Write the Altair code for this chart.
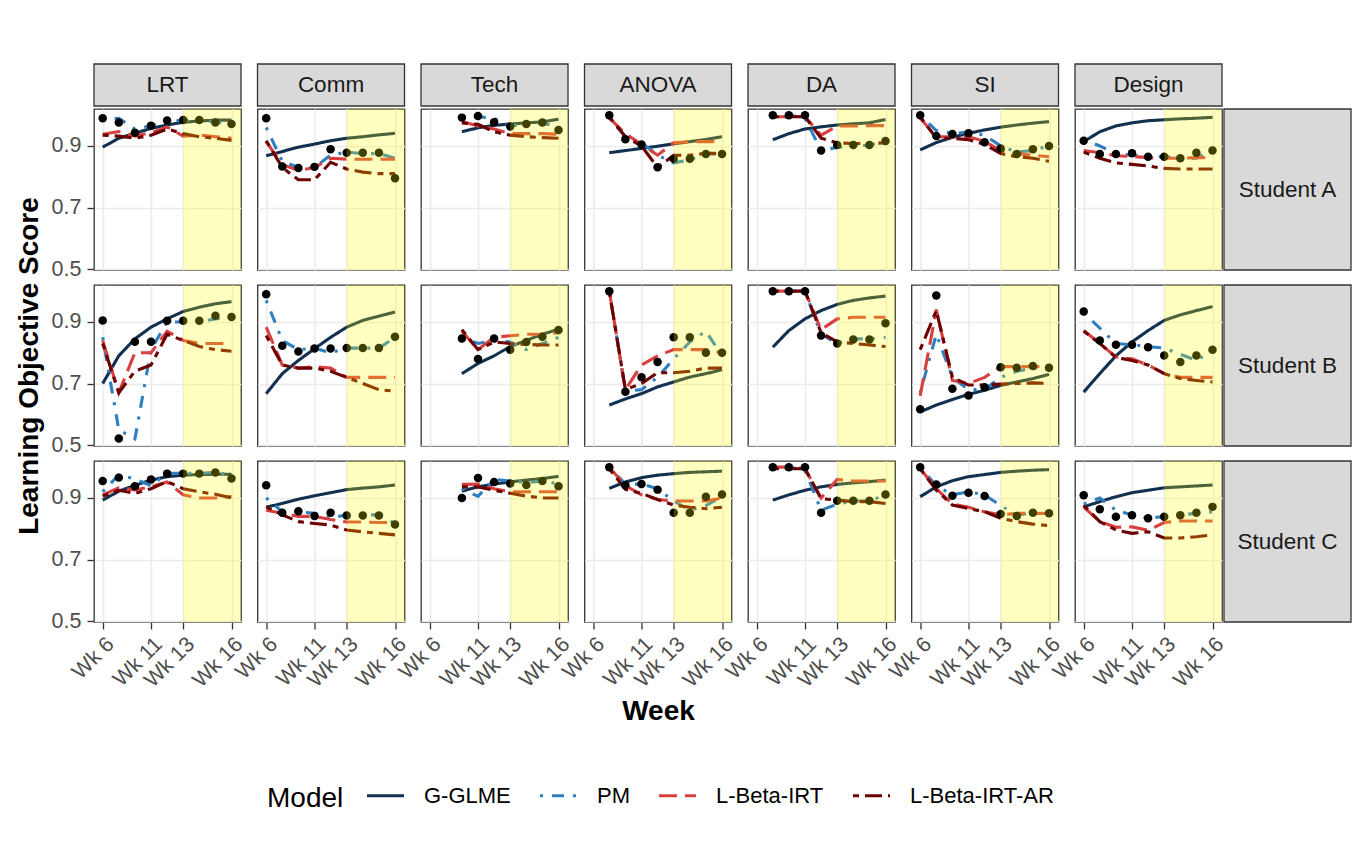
import altair as alt
import pandas as pd

COURSES = ["LRT", "Comm", "Tech", "ANOVA", "DA", "SI", "Design"]
STUDENTS = ["Student A", "Student B", "Student C"]
T = [0, 1, 2, 3, 4, 5, 6, 7, 8]
WEEK_TICKS = [0, 3, 5, 8]
WEEK_LABELS = ["Wk 6", "Wk 11", "Wk 13", "Wk 16"]
Y_TICKS = [0.5, 0.7, 0.9]
MODELS = ["G-GLME", "PM", "L-Beta-IRT", "L-Beta-IRT-AR"]
COLORS = ["#12304f", "#2d7fbf", "#d8403f", "#6c0000"]
DASHES = [[1, 0], [3, 9, 12, 9], [18, 8], [6, 6, 17, 6]]
N = None

# ---------------- Student A ----------------
A_OBS = {
    "LRT": [0.99, 0.976, 0.943, 0.966, 0.983, 0.984, 0.984, 0.976, 0.971],
    "Comm": [0.99, 0.833, 0.828, 0.832, 0.889, 0.878, 0.878, 0.878, 0.795],
    "Tech": [N, N, 0.992, 0.997, 0.977, 0.963, 0.971, 0.976, 0.952],
    "ANOVA": [N, 1.0, 0.922, 0.905, 0.831, 0.858, 0.858, 0.874, 0.874],
    "DA": [N, 1.0, 1.0, 1.0, 0.885, 0.903, 0.903, 0.903, 0.916],
    "SI": [1.0, 0.932, 0.939, 0.941, 0.912, 0.892, 0.874, 0.889, 0.90],
    "Design": [0.917, 0.874, 0.874, 0.876, 0.865, 0.865, 0.86, 0.878, 0.885],
}
A_GLME = {
    "LRT": [0.896, 0.925, 0.941, 0.957, 0.968, 0.977, 0.981, 0.984, 0.984],
    "Comm": [0.868, 0.882, 0.896, 0.906, 0.917, 0.925, 0.93, 0.936, 0.941],
    "Tech": [N, N, 0.946, 0.959, 0.967, 0.971, 0.975, 0.978, 0.987],
    "ANOVA": [N, 0.878, 0.885, 0.892, 0.899, 0.907, 0.914, 0.921, 0.93],
    "DA": [N, 0.92, 0.94, 0.955, 0.962, 0.968, 0.972, 0.975, 0.986],
    "SI": [0.887, 0.911, 0.928, 0.941, 0.952, 0.961, 0.968, 0.974, 0.979],
    "Design": [0.914, 0.946, 0.965, 0.975, 0.982, 0.985, 0.988, 0.99, 0.993],
}
A_PM = {
    "LRT": [0.985, 0.99, 0.955, 0.965, 0.98, 0.983, 0.983, 0.978, 0.972],
    "Comm": [0.96, 0.85, 0.83, 0.83, 0.87, 0.88, 0.875, 0.875, 0.86],
    "Tech": [N, N, 0.99, 0.995, 0.99, 0.965, 0.97, 0.975, 0.96],
    "ANOVA": [N, 0.99, 0.93, 0.91, 0.87, 0.845, 0.855, 0.875, 0.872],
    "DA": [N, 1.0, 1.0, 0.99, 0.885, 0.895, 0.9, 0.902, 0.916],
    "SI": [1.0, 0.95, 0.94, 0.945, 0.935, 0.9, 0.88, 0.885, 0.9],
    "Design": [0.92, 0.9, 0.875, 0.87, 0.865, 0.865, 0.86, 0.86, 0.887],
}
A_IRT = {
    "LRT": [0.938, 0.947, 0.932, 0.943, 0.962, 0.932, 0.935, 0.93, 0.925],
    "Comm": [0.914, 0.84, 0.82, 0.83, 0.86, 0.857, 0.857, 0.857, 0.857],
    "Tech": [N, N, 0.979, 0.965, 0.955, 0.94, 0.94, 0.94, 0.938],
    "ANOVA": [N, 0.99, 0.94, 0.905, 0.87, 0.91, 0.914, 0.914, 0.914],
    "DA": [N, 0.995, 0.995, 0.995, 0.935, 0.965, 0.965, 0.966, 0.966],
    "SI": [0.99, 0.93, 0.93, 0.93, 0.915, 0.885, 0.875, 0.87, 0.865],
    "Design": [0.885, 0.878, 0.868, 0.866, 0.862, 0.86, 0.86, 0.862, 0.862],
}
A_AR = {
    "LRT": [0.935, 0.932, 0.925, 0.935, 0.955, 0.94, 0.93, 0.925, 0.918],
    "Comm": [0.917, 0.83, 0.79, 0.79, 0.847, 0.825, 0.815, 0.81, 0.81],
    "Tech": [N, N, 0.975, 0.97, 0.946, 0.935, 0.93, 0.927, 0.925],
    "ANOVA": [N, 0.995, 0.93, 0.9, 0.83, 0.87, 0.87, 0.876, 0.876],
    "DA": [N, 0.995, 0.995, 0.995, 0.925, 0.91, 0.908, 0.908, 0.91],
    "SI": [0.995, 0.925, 0.925, 0.92, 0.905, 0.875, 0.865, 0.86, 0.85],
    "Design": [0.88, 0.86, 0.845, 0.84, 0.835, 0.827, 0.825, 0.825, 0.825],
}

# ---------------- Student B ----------------
B_OBS = {
    "LRT": [0.905, 0.521, 0.836, 0.836, 0.904, 0.904, 0.904, 0.92, 0.916],
    "Comm": [0.99, 0.823, 0.804, 0.814, 0.814, 0.815, 0.815, 0.815, 0.852],
    "Tech": [N, N, 0.846, 0.78, 0.846, 0.81, 0.835, 0.852, 0.874],
    "ANOVA": [N, 1.0, 0.673, 0.72, 0.77, 0.85, 0.85, 0.80, 0.80],
    "DA": [N, 1.0, 1.0, 1.0, 0.856, 0.83, 0.843, 0.843, 0.896],
    "SI": [0.616, 0.986, 0.683, 0.661, 0.688, 0.753, 0.751, 0.757, 0.751],
    "Design": [0.934, 0.84, 0.826, 0.826, 0.818, 0.791, 0.77, 0.791, 0.81],
}
B_GLME = {
    "LRT": [0.70, 0.79, 0.845, 0.883, 0.91, 0.934, 0.948, 0.959, 0.966],
    "Comm": [0.667, 0.732, 0.775, 0.813, 0.85, 0.883, 0.905, 0.919, 0.932],
    "Tech": [N, N, 0.732, 0.765, 0.79, 0.82, 0.84, 0.86, 0.876],
    "ANOVA": [N, 0.63, 0.65, 0.667, 0.689, 0.705, 0.721, 0.732, 0.745],
    "DA": [N, 0.818, 0.872, 0.91, 0.937, 0.957, 0.97, 0.978, 0.984],
    "SI": [0.608, 0.63, 0.648, 0.665, 0.678, 0.694, 0.705, 0.716, 0.73],
    "Design": [0.672, 0.732, 0.79, 0.835, 0.872, 0.905, 0.923, 0.937, 0.95],
}
B_PM = {
    "LRT": [0.85, 0.55, 0.52, 0.81, 0.9, 0.9, 0.9, 0.91, 0.915],
    "Comm": [0.97, 0.84, 0.81, 0.815, 0.80, 0.815, 0.815, 0.815, 0.85],
    "Tech": [N, N, 0.85, 0.83, 0.84, 0.835, 0.81, 0.83, 0.85],
    "ANOVA": [N, 1.0, 0.675, 0.68, 0.72, 0.78, 0.835, 0.87, 0.79],
    "DA": [N, 1.0, 1.0, 1.0, 0.86, 0.83, 0.845, 0.845, 0.85],
    "SI": [0.67, 0.86, 0.72, 0.68, 0.68, 0.72, 0.74, 0.75, 0.75],
    "Design": [0.93, 0.88, 0.83, 0.826, 0.82, 0.815, 0.795, 0.775, 0.805],
}
B_IRT = {
    "LRT": [0.84, 0.67, 0.80, 0.80, 0.87, 0.84, 0.83, 0.83, 0.83],
    "Comm": [0.883, 0.76, 0.75, 0.755, 0.75, 0.72, 0.72, 0.72, 0.72],
    "Tech": [N, N, 0.87, 0.81, 0.85, 0.855, 0.86, 0.86, 0.865],
    "ANOVA": [N, 1.0, 0.68, 0.76, 0.79, 0.81, 0.81, 0.81, 0.80],
    "DA": [N, 1.0, 1.0, 1.0, 0.875, 0.91, 0.915, 0.915, 0.915],
    "SI": [0.66, 0.94, 0.71, 0.70, 0.72, 0.755, 0.755, 0.755, 0.755],
    "Design": [0.872, 0.83, 0.786, 0.78, 0.76, 0.732, 0.72, 0.72, 0.72],
}
B_AR = {
    "LRT": [0.83, 0.67, 0.74, 0.76, 0.86, 0.84, 0.82, 0.81, 0.805],
    "Comm": [0.856, 0.76, 0.75, 0.75, 0.74, 0.72, 0.70, 0.68, 0.675],
    "Tech": [N, N, 0.875, 0.81, 0.835, 0.83, 0.827, 0.825, 0.825],
    "ANOVA": [N, 1.0, 0.68, 0.70, 0.735, 0.735, 0.74, 0.75, 0.75],
    "DA": [N, 1.0, 1.0, 1.0, 0.865, 0.835, 0.83, 0.825, 0.82],
    "SI": [0.81, 0.937, 0.72, 0.695, 0.695, 0.698, 0.70, 0.702, 0.70],
    "Design": [0.87, 0.83, 0.785, 0.775, 0.76, 0.732, 0.716, 0.71, 0.705],
}

# ---------------- Student C ----------------
C_OBS = {
    "LRT": [0.955, 0.966, 0.938, 0.96, 0.979, 0.979, 0.979, 0.983, 0.963],
    "Comm": [0.941, 0.852, 0.857, 0.841, 0.852, 0.843, 0.843, 0.843, 0.814],
    "Tech": [N, N, 0.90, 0.965, 0.952, 0.947, 0.942, 0.955, 0.938],
    "ANOVA": [N, 1.0, 0.941, 0.945, 0.927, 0.852, 0.852, 0.904, 0.911],
    "DA": [N, 1.0, 1.0, 1.0, 0.852, 0.891, 0.891, 0.891, 0.911],
    "SI": [1.0, 0.944, 0.907, 0.917, 0.906, 0.848, 0.841, 0.852, 0.85],
    "Design": [0.909, 0.863, 0.839, 0.844, 0.834, 0.839, 0.844, 0.852, 0.871],
}
C_GLME = {
    "LRT": [0.893, 0.922, 0.941, 0.958, 0.969, 0.974, 0.976, 0.977, 0.977],
    "Comm": [0.87, 0.882, 0.896, 0.907, 0.917, 0.927, 0.932, 0.936, 0.942],
    "Tech": [N, N, 0.922, 0.936, 0.945, 0.952, 0.958, 0.963, 0.97],
    "ANOVA": [N, 0.931, 0.952, 0.966, 0.974, 0.979, 0.983, 0.985, 0.987],
    "DA": [N, 0.893, 0.91, 0.925, 0.936, 0.944, 0.949, 0.953, 0.958],
    "SI": [0.904, 0.936, 0.956, 0.969, 0.976, 0.983, 0.987, 0.99, 0.992],
    "Design": [0.871, 0.888, 0.904, 0.917, 0.925, 0.933, 0.936, 0.939, 0.942],
}
C_PM = {
    "LRT": [0.92, 0.975, 0.962, 0.94, 0.98, 0.98, 0.98, 0.983, 0.975],
    "Comm": [0.90, 0.855, 0.855, 0.85, 0.835, 0.845, 0.845, 0.845, 0.817],
    "Tech": [N, N, 0.93, 0.905, 0.96, 0.955, 0.95, 0.955, 0.945],
    "ANOVA": [N, 1.0, 0.945, 0.945, 0.93, 0.89, 0.86, 0.875, 0.905],
    "DA": [N, 1.0, 1.0, 0.99, 0.86, 0.88, 0.89, 0.89, 0.91],
    "SI": [1.0, 0.94, 0.91, 0.92, 0.91, 0.875, 0.845, 0.85, 0.845],
    "Design": [0.88, 0.9, 0.86, 0.845, 0.834, 0.84, 0.845, 0.85, 0.855],
}
C_IRT = {
    "LRT": [0.91, 0.933, 0.926, 0.936, 0.952, 0.91, 0.9, 0.9, 0.905],
    "Comm": [0.86, 0.85, 0.84, 0.84, 0.83, 0.822, 0.822, 0.82, 0.82],
    "Tech": [N, N, 0.944, 0.945, 0.93, 0.92, 0.92, 0.92, 0.92],
    "ANOVA": [N, 1.0, 0.94, 0.91, 0.895, 0.89, 0.89, 0.89, 0.90],
    "DA": [N, 1.0, 1.0, 0.995, 0.9, 0.96, 0.955, 0.955, 0.955],
    "SI": [0.995, 0.93, 0.88, 0.87, 0.855, 0.845, 0.85, 0.85, 0.85],
    "Design": [0.87, 0.823, 0.805, 0.806, 0.795, 0.82, 0.825, 0.825, 0.825],
}
C_AR = {
    "LRT": [0.906, 0.925, 0.915, 0.93, 0.953, 0.93, 0.92, 0.912, 0.90],
    "Comm": [0.871, 0.845, 0.823, 0.817, 0.812, 0.796, 0.79, 0.785, 0.78],
    "Tech": [N, N, 0.936, 0.936, 0.925, 0.915, 0.906, 0.9, 0.9],
    "ANOVA": [N, 0.995, 0.928, 0.915, 0.895, 0.877, 0.87, 0.865, 0.87],
    "DA": [N, 0.995, 0.995, 0.995, 0.898, 0.893, 0.888, 0.888, 0.882],
    "SI": [0.995, 0.925, 0.877, 0.866, 0.855, 0.834, 0.823, 0.815, 0.81],
    "Design": [0.876, 0.823, 0.796, 0.785, 0.79, 0.77, 0.77, 0.774, 0.78],
}

SERIES = {
    "Student A": {"obs": A_OBS, "G-GLME": A_GLME, "PM": A_PM, "L-Beta-IRT": A_IRT, "L-Beta-IRT-AR": A_AR},
    "Student B": {"obs": B_OBS, "G-GLME": B_GLME, "PM": B_PM, "L-Beta-IRT": B_IRT, "L-Beta-IRT-AR": B_AR},
    "Student C": {"obs": C_OBS, "G-GLME": C_GLME, "PM": C_PM, "L-Beta-IRT": C_IRT, "L-Beta-IRT-AR": C_AR},
}

W, H = 147, 161
XDOM = [-0.54, 8.59]
YDOM = [0.497, 1.02]
SHADE_START = 5
FONT = "Liberation Sans"

label_expr = " : ".join(
    f"datum.value == {v} ? '{l}'" for v, l in zip(WEEK_TICKS, WEEK_LABELS)
) + " : ''"

xscale = alt.Scale(domain=XDOM, nice=False, zero=False)
yscale = alt.Scale(domain=YDOM, nice=False, zero=False)

legend = alt.Legend(
    title="Model", orient="none", legendX=173, legendY=666,
    direction="horizontal", titleOrient="left",
    titleAnchor="middle", titleBaseline="line-top", titleLineHeight=16,
    titleFontSize=28, titleFontWeight="normal", titleColor="black",
    titleFont=FONT, labelFont=FONT,
    labelFontSize=22, labelColor="black",
    symbolType="stroke", symbolSize=1369, symbolStrokeWidth=3.2,
    labelOffset=18, columnPadding=22, titlePadding=21,
)


def panel(student, course, ri, ci):
    show_x = ri == len(STUDENTS) - 1
    show_y = ci == 0
    if show_x:
        xaxis = alt.Axis(values=WEEK_TICKS, labelExpr=label_expr, labelAngle=-45,
                         labelAlign="right", labelBaseline="top", labelPadding=4,
                         labelOverlap=False, labelBound=False, labelFlush=False,
                         ticks=True, labels=True, grid=True, domain=False,
                         title="Week" if ci == 3 else None, titlePadding=6)
    else:
        xaxis = alt.Axis(values=WEEK_TICKS, ticks=False, labels=False, grid=True,
                         domain=False, title=None)
    if show_y:
        yaxis = alt.Axis(values=Y_TICKS, format=".1f", ticks=True, labels=True,
                         labelOverlap=False, grid=True, domain=False, labelPadding=6,
                         title="Learning Objective Score" if ri == 1 else None,
                         titlePadding=8)
    else:
        yaxis = alt.Axis(values=Y_TICKS, ticks=False, labels=False, grid=True,
                         domain=False, title=None)

    X = alt.X("t:Q", scale=xscale, axis=xaxis)
    Y = alt.Y("v:Q", scale=yscale, axis=yaxis)

    rows = []
    for m in MODELS:
        for t, v in zip(T, SERIES[student][m][course]):
            if v is not None:
                rows.append({"model": m, "t": t, "v": v})
    obs = [{"t": t, "v": v} for t, v in zip(T, SERIES[student]["obs"][course]) if v is not None]

    lines = alt.Chart(pd.DataFrame(rows)).mark_line(strokeWidth=3.1).encode(
        x=X, y=Y,
        color=alt.Color("model:N", scale=alt.Scale(domain=MODELS, range=COLORS), legend=legend),
        strokeDash=alt.StrokeDash("model:N", scale=alt.Scale(domain=MODELS, range=DASHES), legend=legend),
    )
    pts = alt.Chart(pd.DataFrame(obs)).mark_circle(size=72, color="black", opacity=1).encode(x=X, y=Y)
    shade = alt.Chart(pd.DataFrame({"t": [SHADE_START], "t2": [XDOM[1]]})).mark_rect(
        color="#FFFF00", opacity=0.25
    ).encode(x=X, x2="t2:Q", y=alt.value(0), y2=alt.value(H))

    layers = [lines, pts, shade]
    if ri == 0:
        lab = pd.DataFrame({"lab": [course]})
        layers.append(alt.Chart(lab).mark_rect(fill="#D9D9D9", stroke="#333333", strokeWidth=1.3).encode(
            x=alt.value(0), x2=alt.value(W), y=alt.value(-45), y2=alt.value(-3)))
        layers.append(alt.Chart(lab).mark_text(fontSize=22.5, color="#1A1A1A", font=FONT,
                                               align="center", baseline="middle").encode(
            text="lab:N", x=alt.value(W / 2), y=alt.value(-24)))
    if ci == len(COURSES) - 1:
        lab = pd.DataFrame({"lab": [student]})
        layers.append(alt.Chart(lab).mark_rect(fill="#D9D9D9", stroke="#333333", strokeWidth=1.3).encode(
            x=alt.value(W + 2), x2=alt.value(W + 129), y=alt.value(0), y2=alt.value(H)))
        layers.append(alt.Chart(lab).mark_text(fontSize=22.5, color="#1A1A1A", font=FONT,
                                               align="center", baseline="middle").encode(
            text="lab:N", x=alt.value(W + 65.5), y=alt.value(H / 2)))
    return alt.layer(*layers).properties(width=W, height=H)


panels = []
for ri, s in enumerate(STUDENTS):
    for ci, c in enumerate(COURSES):
        panels.append(panel(s, c, ri, ci))

chart = alt.concat(*panels, columns=7, spacing={"row": 15, "column": 16.5}, bounds="flush").properties(
    padding={"left": 6, "top": 54, "right": 5, "bottom": 5}
).configure(font=FONT).configure_view(
    stroke="#333333", strokeWidth=1.3, fill="white"
).configure_axis(
    labelFont=FONT, titleFont=FONT, labelFontSize=21.5, labelColor="#4D4D4D",
    titleFontSize=28, titleFontWeight="bold", titleColor="black",
    gridColor="#EBEBEB", gridWidth=1.6, tickColor="#333333", tickWidth=1.3, tickSize=7,
)

chart.save("out.html", embed_options={"renderer": "svg", "actions": False})
